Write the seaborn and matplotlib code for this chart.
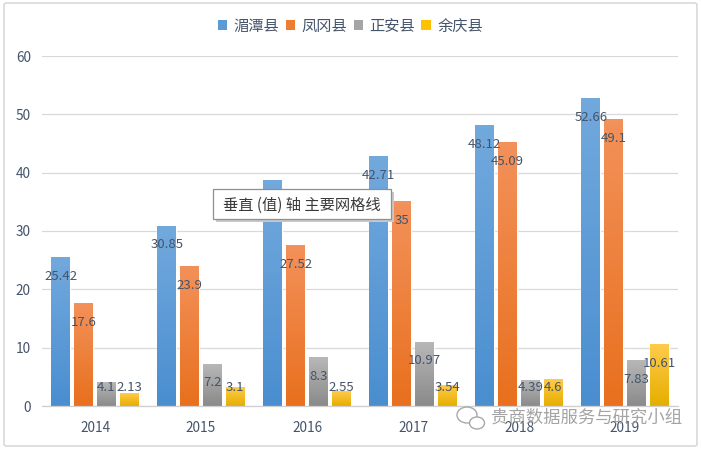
import numpy as np
import pandas as pd
import matplotlib.pyplot as plt
import seaborn as sns
from matplotlib.colors import LinearSegmentedColormap
from matplotlib.patches import Patch, Rectangle, FancyBboxPatch, Ellipse

sns.set_style('white')
plt.rcParams['font.family'] = ['Noto Sans CJK SC', 'DejaVu Sans']

# Data
years = ['2014', '2015', '2016', '2017', '2018', '2019']
counties = ['湄潭县', '凤冈县', '正安县', '余庆县']
meitan = [25.42, 30.85, 38.7, 42.71, 48.12, 52.66]
fenggang = [17.6, 23.9, 27.52, 35, 45.09, 49.1]
zhengan = [4.1, 7.2, 8.3, 10.97, 4.39, 7.83]
yuqing = [2.13, 3.1, 2.55, 3.54, 4.6, 10.61]

# (top, bottom) gradient colours, Excel style
grads = [('#72A9DD', '#4A8ED0'),
         ('#F3915A', '#E8701E'),
         ('#B7B7B7', '#8A8A8A'),
         ('#FFCB4A', '#E6AE00')]
base_colors = ['#5B9BD5', '#ED7D31', '#A5A5A5', '#FFC000']

df = pd.DataFrame({
    'year': years * 4,
    'county': sum([[c] * len(years) for c in counties], []),
    'value': meitan + fenggang + zhengan + yuqing,
})

W, H = 701, 450
fig = plt.figure(figsize=(W / 100, H / 100), dpi=100)
ax = fig.add_axes([42 / W, 1 - 406 / H, (678 - 42) / W, (406 - 56) / H])

sns.barplot(data=df, x='year', y='value', hue='county', hue_order=counties,
            palette=base_colors, width=0.86, gap=0.17, legend=False, ax=ax,
            errorbar=None)

text_color = '#44546A'

# gradient fill + data labels
for container, (top, bot) in zip(ax.containers, grads):
    cmap = LinearSegmentedColormap.from_list('g', [bot, top])
    for bar in container:
        x0, w, h = bar.get_x(), bar.get_width(), bar.get_height()
        ax.imshow(np.linspace(0, 1, 64).reshape(-1, 1), cmap=cmap,
                  extent=[x0, x0 + w, 0, h], origin='lower', aspect='auto',
                  zorder=2)
        bar.set_facecolor('none')
        ax.text(x0 + w / 2, max(h - 3.25, 3.1), f'{h:g}', ha='center',
                va='center', fontsize=9.5, color=text_color, zorder=5)

ax.set_xlim(-0.5, 5.5)
ax.set_ylim(0, 60)
ax.set_yticks(range(0, 61, 10))
ax.yaxis.grid(True, color='#D9D9D9', lw=0.9)
ax.set_axisbelow(True)
for s in ['top', 'right', 'left']:
    ax.spines[s].set_visible(False)
ax.spines['bottom'].set_color('#CFCFCF')
ax.spines['bottom'].set_linewidth(0.9)
ax.tick_params(axis='y', length=0, pad=8, labelsize=9.8, labelcolor=text_color)
ax.tick_params(axis='x', length=0, pad=11, labelsize=9.8, labelcolor=text_color)
ax.set_xlabel('')
ax.set_ylabel('')

# legend
handles = [Patch(facecolor=c, edgecolor='none') for c in base_colors]
fig.legend(handles, counties, loc='center', bbox_to_anchor=(0.5, 1 - 26 / H),
           ncol=4, frameon=False, fontsize=11, handlelength=0.6,
           handleheight=0.6, handletextpad=0.45, columnspacing=0.4,
           labelcolor=text_color)


def px(x, y):
    return x / W, 1 - y / H


# outer chart border
fig.add_artist(FancyBboxPatch(px(4, 446), 693 / W, 443 / H,
                              boxstyle='round,pad=0,rounding_size=0.004',
                              transform=fig.transFigure, facecolor='none',
                              edgecolor='#D9D9D9', lw=1.2))

# tooltip
fig.add_artist(Rectangle(px(216, 222), 178 / W, 30 / H, transform=fig.transFigure,
                         facecolor='#C8C8C8', edgecolor='none', zorder=9))
fig.add_artist(Rectangle(px(213, 219), 178 / W, 30 / H, transform=fig.transFigure,
                         facecolor='white', edgecolor='#8F8F8F', lw=0.9, zorder=10))
fig.text(*px(302, 205), '垂直 (值) 轴 主要网格线', ha='center', va='center',
         fontsize=11, color='#3A3A3A', zorder=11)

# watermark
fig.add_artist(Ellipse(px(467, 415), 20 / W, 16 / H, transform=fig.transFigure,
                       facecolor='none', edgecolor='#A8A8A8', lw=1.0, zorder=11))
fig.add_artist(Ellipse(px(477, 423), 15 / W, 12 / H, transform=fig.transFigure,
                       facecolor='white', edgecolor='#A8A8A8', lw=1.0, zorder=11))
fig.text(*px(491, 418), '贵商数据服务与研究小组', ha='left', va='center',
         fontsize=12.5, color='#9A9A9A', alpha=0.9, zorder=11)

fig.savefig('out.png', dpi=100)
